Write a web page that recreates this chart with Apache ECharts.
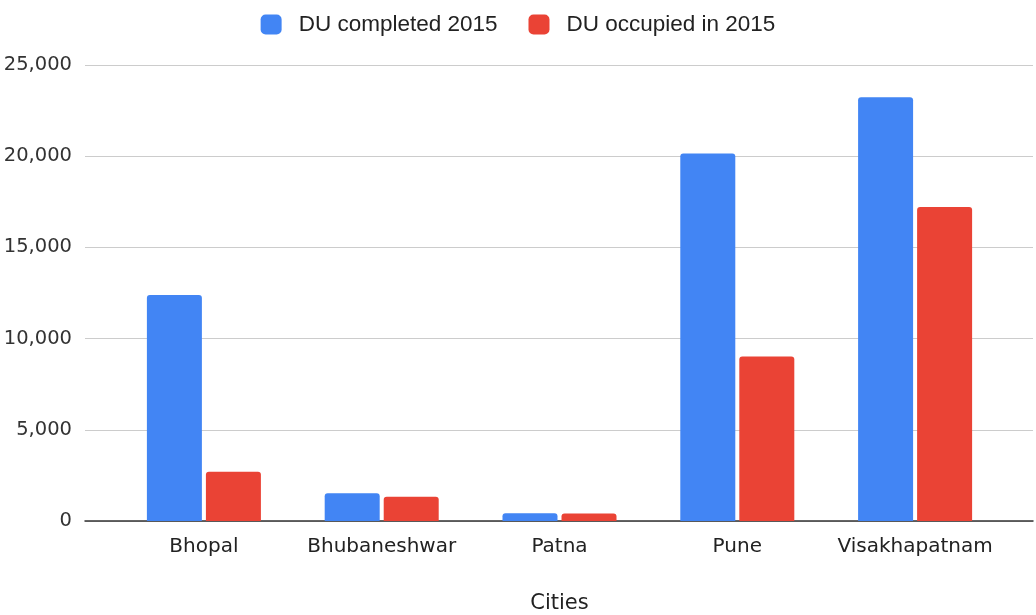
<!DOCTYPE html>
<html>
<head>
<meta charset="utf-8">
<style>html,body{margin:0;padding:0;background:#fff;}#c{width:1036px;height:615px;}</style>
<script src="https://cdn.jsdelivr.net/npm/echarts@6/dist/echarts.min.js"></script>
</head>
<body>
<div id="c"></div>
<script>
const cities = ['Bhopal', 'Bhubaneshwar', 'Patna', 'Pune', 'Visakhapatnam'];
const duCompleted = [12390, 1515, 420, 20150, 23235];
const duOccupied = [2705, 1330, 410, 9020, 17220];
const seriesNames = ['DU completed 2015', 'DU occupied in 2015'];
const yTicks = { min: 0, max: 25000, interval: 5000 };

const chart = echarts.init(document.getElementById('c'));
const fmt = v => Number(v).toLocaleString('en-US');
chart.setOption({
  animation: false,
  backgroundColor: '#fff',
  legend: {
    top: 8, left: 'center',
    itemWidth: 21, itemHeight: 20, itemGap: 31,
    icon: 'roundRect',
    textStyle: { fontFamily: 'Liberation Sans, Arial, sans-serif', fontSize: 22.5, color: '#222', padding: [0, 0, 0, 12] },
    data: seriesNames
  },
  grid: [
    { left: 85, right: 3, top: 65, bottom: 94, containLabel: false, outerBoundsMode: 'none' },
    { left: 115, right: 32, top: 65, bottom: 94, containLabel: false, outerBoundsMode: 'none' }
  ],
  xAxis: [
    { type: 'category', gridIndex: 0, data: cities, axisLabel: { show: false }, axisTick: { show: false },
      axisLine: { show: true, lineStyle: { color: '#333', width: 1.5 } } },
    { type: 'category', gridIndex: 1, data: cities, axisTick: { show: false }, axisLine: { show: false },
      axisLabel: { interval: 0, margin: 16, fontFamily: 'DejaVu Sans, sans-serif', fontSize: 20, color: '#222' },
      name: 'Cities', nameLocation: 'middle', nameGap: 72,
      nameTextStyle: { fontFamily: 'DejaVu Sans, sans-serif', fontSize: 21, color: '#222' } }
  ],
  yAxis: [
    { type: 'value', gridIndex: 0, min: yTicks.min, max: yTicks.max, interval: yTicks.interval,
      axisLine: { show: false }, axisTick: { show: false },
      axisLabel: { margin: 13, formatter: fmt, fontFamily: 'DejaVu Sans, sans-serif', fontSize: 19.5, color: '#333' },
      splitLine: { lineStyle: { color: '#ccc', width: 1 } } },
    { type: 'value', gridIndex: 1, min: yTicks.min, max: yTicks.max, interval: yTicks.interval, show: false,
      splitLine: { show: false } }
  ],
  series: [
    { name: seriesNames[0], type: 'bar', xAxisIndex: 1, yAxisIndex: 1, data: duCompleted,
      barWidth: 55, barGap: '7.3%', itemStyle: { color: '#4285F4', borderRadius: [3, 3, 0, 0] } },
    { name: seriesNames[1], type: 'bar', xAxisIndex: 1, yAxisIndex: 1, data: duOccupied,
      barWidth: 55, barGap: '7.3%', itemStyle: { color: '#EA4335', borderRadius: [3, 3, 0, 0] } }
  ]
});
</script>
</body>
</html>
